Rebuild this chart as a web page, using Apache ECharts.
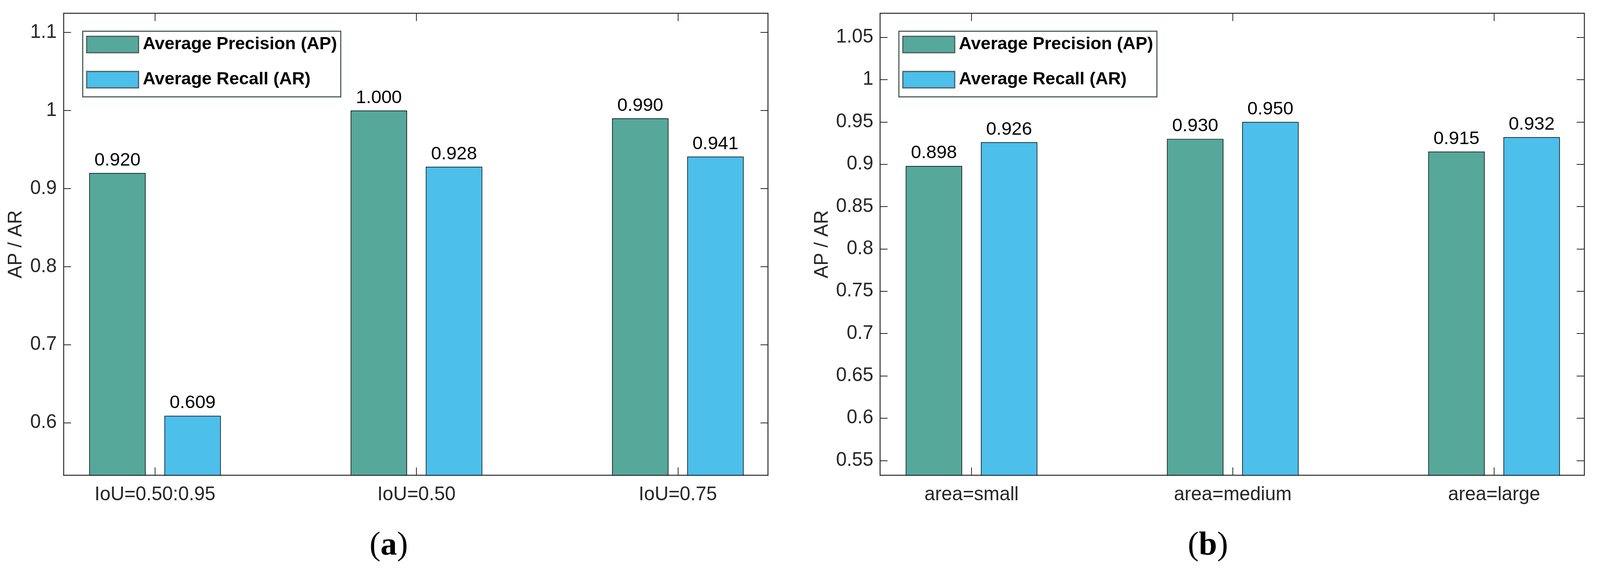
<!DOCTYPE html>
<html><head><meta charset="utf-8">
<script src="https://cdn.jsdelivr.net/npm/echarts@6/dist/echarts.min.js"></script>
<style>html,body{margin:0;padding:0;background:#fff;overflow:hidden}#c{width:100vw;height:100vh}</style>
</head><body><div id="c"></div>
<script>
const catsA = ['IoU=0.50:0.95', 'IoU=0.50', 'IoU=0.75'];
const apA = [0.920, 1.000, 0.990];
const arA = [0.609, 0.928, 0.941];
const catsB = ['area=small', 'area=medium', 'area=large'];
const apB = [0.898, 0.930, 0.915];
const arB = [0.926, 0.950, 0.932];
const yTicksA = [0.6, 0.7, 0.8, 0.9, 1, 1.1];
const yTicksB = [0.55, 0.6, 0.65, 0.7, 0.75, 0.8, 0.85, 0.9, 0.95, 1, 1.05];
const yRangeA = [0.5329, 1.1246];
const yRangeB = [0.5326, 1.0784];
const xRange = [0.65, 3.345];
const seriesNames = ['Average Precision (AP)', 'Average Recall (AR)'];
const colors = ['#56A89B', '#4DBFEB'];
const panelLabels = ['a', 'b'];

const FONT = '"Liberation Sans", Arial, Helvetica, sans-serif';
const SERIF = '"Liberation Serif", "Times New Roman", serif';
const AX = '#262626';
const W0 = 4256, H0 = 1475;
const dom = document.getElementById('c');
const sx = dom.clientWidth / W0, sy = dom.clientHeight / H0;
const sf = Math.sqrt(sx * sy);
const X = v => v * sx, Y = v => v * sy, F = v => v * sf;
const catPos = c => c.map((_, i) => i + 1);

function xAxes(cats, gi) {
  const ticks = catPos(cats);
  const common = { type: 'value', gridIndex: gi, min: xRange[0], max: xRange[1], splitLine: { show: false },
    axisLine: { show: true, onZero: false, lineStyle: { color: AX, width: F(2.5) } },
    axisTick: { show: true, inside: true, length: Y(20), customValues: ticks, lineStyle: { color: AX, width: F(2) } } };
  return [
    Object.assign({}, common, { position: 'bottom',
      axisLabel: { show: true, customValues: ticks, margin: Y(26), fontSize: F(50), color: AX, fontFamily: FONT,
        formatter: v => cats[Math.round(v) - 1] } }),
    Object.assign({}, common, { position: 'top', axisLabel: { show: false } })
  ];
}
function yAxes(range, ticks, gi, nameGap) {
  const fmt = v => String(+(+v).toFixed(2));
  const common = { type: 'value', gridIndex: gi, min: range[0], max: range[1], splitLine: { show: false },
    axisLine: { show: true, onZero: false, lineStyle: { color: AX, width: F(2.5) } },
    axisTick: { show: true, inside: true, length: X(20), customValues: ticks, lineStyle: { color: AX, width: F(2) } } };
  return [
    Object.assign({}, common, { position: 'left',
      name: 'AP / AR', nameLocation: 'middle', nameGap: X(nameGap),
      nameTextStyle: { fontSize: F(50), color: AX, fontFamily: FONT },
      axisLabel: { show: true, customValues: ticks, margin: X(18), fontSize: F(50), color: AX, fontFamily: FONT, formatter: fmt } }),
    Object.assign({}, common, { position: 'right', axisLabel: { show: false } })
  ];
}
function bar(si, xi, yi, vals) {
  return {
    type: 'bar', name: seriesNames[si], xAxisIndex: xi, yAxisIndex: yi,
    data: vals.map((v, k) => [k + 1, v]),
    barWidth: X(150), barGap: '33.3%',
    itemStyle: { color: colors[si], borderColor: '#000', borderWidth: F(1.5) },
    label: { show: true, position: 'top', distance: Y(9), fontSize: F(48), color: '#000', fontFamily: FONT,
      formatter: p => p.value[1].toFixed(3) },
    emphasis: { disabled: true }
  };
}
function legend(left) {
  return {
    left: X(left), top: Y(80), orient: 'vertical', data: seriesNames,
    itemWidth: X(138), itemHeight: Y(42), itemGap: Y(40), padding: [Y(9), X(10), Y(19), X(9)],
    backgroundColor: '#fff', borderColor: '#4B5E5D', borderWidth: F(3), borderRadius: 0,
    icon: 'rect', selectedMode: false,
    itemStyle: { borderColor: '#4B5E5D', borderWidth: F(3) },
    textStyle: { fontSize: F(46), fontWeight: 'bold', color: '#000', fontFamily: FONT, lineHeight: Y(42), padding: [Y(8), 0, 0, X(6)] }
  };
}
function panelTitle(i, cx) {
  return {
    text: '({b|' + panelLabels[i] + '})', left: X(cx), top: Y(1356), textAlign: 'center', padding: 0,
    textStyle: { fontSize: F(86), fontWeight: 'normal', color: '#000', fontFamily: SERIF,
      rich: { b: { fontSize: F(86), fontWeight: 'bold', color: '#000', fontFamily: SERIF } } }
  };
}

const chart = echarts.init(dom, null, { renderer: 'canvas' });
chart.setOption({
  backgroundColor: '#fff',
  animation: false,
  title: [panelTitle(0, 1034), panelTitle(1, 3213)],
  legend: [legend(220), legend(2391)],
  grid: [
    { left: X(169), right: X(W0 - 2043), top: Y(34), bottom: Y(H0 - 1217), containLabel: false },
    { left: X(2341), right: X(W0 - 4214), top: Y(34), bottom: Y(H0 - 1217), containLabel: false }
  ],
  xAxis: [...xAxes(catsA, 0), ...xAxes(catsB, 1)],
  yAxis: [...yAxes(yRangeA, yTicksA, 0, 100), ...yAxes(yRangeB, yTicksB, 1, 128)],
  series: [
    bar(0, 0, 0, apA), bar(1, 0, 0, arA),
    bar(0, 2, 2, apB), bar(1, 2, 2, arB)
  ]
});
</script></body></html>
